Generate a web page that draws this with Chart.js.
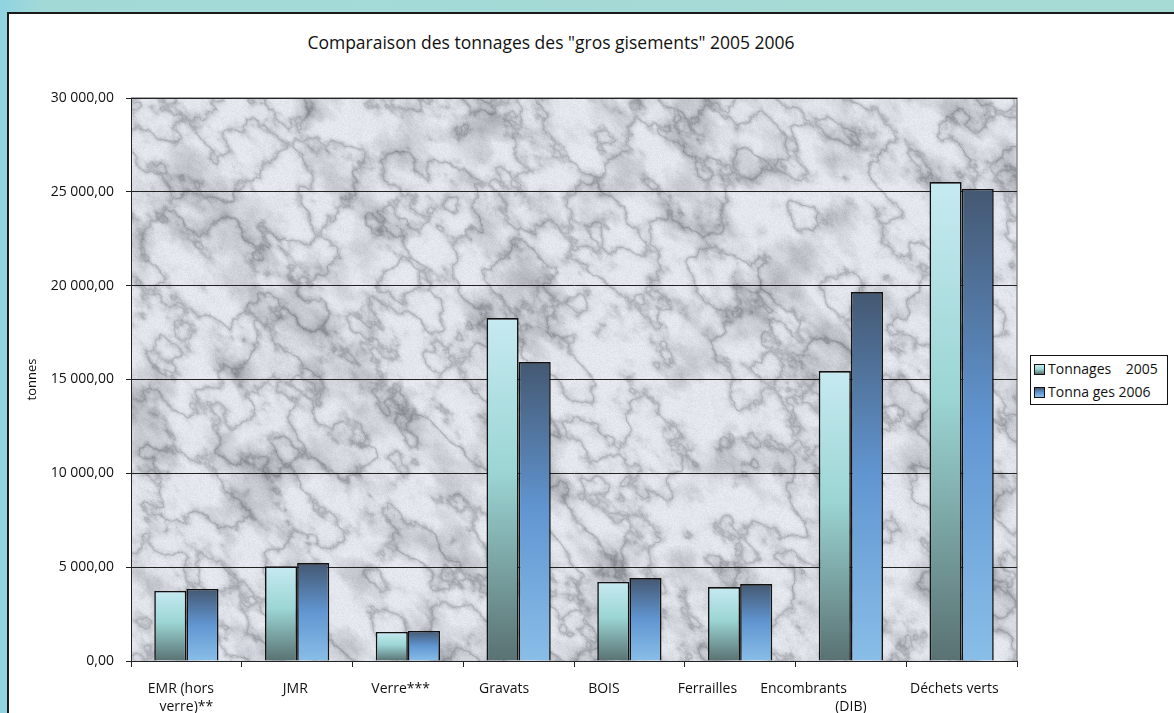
<!DOCTYPE html>
<html>
<head>
<meta charset="utf-8">
<script src="https://cdn.jsdelivr.net/npm/chart.js@4.4.0/dist/chart.umd.min.js"></script>
<style>
  body { margin: 0; width: 1174px; height: 713px; overflow: hidden;
    background: linear-gradient(90deg, #8fd3e1 0, #a2d9d7 40px, #a6dad4 100%);
    font-family: "Open Sans", sans-serif; }
  #box { position: absolute; left: 7px; top: 12px; right: -5px; bottom: -5px; background: #fff;
    border-left: 2px solid #1a1a1a; border-top: 2px solid #1a1a1a; }
  #title { position: absolute; top: 30px; left: 0; width: 1102px; text-align: center; font-size: 17.5px; color: #111; }
  #chart { position: absolute; left: 0; top: 0; }
  #legend { position: absolute; left: 1030px; top: 355px; width: 138px; height: 50px; border: 1px solid #111;
    background: #fff; font-size: 14px; color: #111; padding-left: 3px; padding-top: 1px; box-sizing: border-box; }
  #legend div { height: 23px; line-height: 23px; white-space: pre; }
  #legend span { display: inline-block; width: 9px; height: 9px; border: 1px solid #111; margin-right: 3px; vertical-align: -1px; }
</style>
</head>
<body>
<div id="box"></div>
<div id="title">Comparaison des tonnages des "gros gisements" 2005 2006</div>
<canvas id="chart" width="1174" height="713"></canvas>
<div id="legend"></div>
<script>
const categories = [['EMR (hors', 'verre)**'], 'JMR', 'Verre***', 'Gravats', 'BOIS', 'Ferrailles',
  ['Encombrants', '(DIB)'], 'Déchets verts'];
const seriesNames = ['Tonnages    2005', 'Tonna ges 2006'];
const tonnages2005 = [3730, 5045, 1545, 18275, 4210, 3940, 15450, 25520];
const tonnages2006 = [3840, 5220, 1600, 15930, 4420, 4100, 19660, 25150];
const yMax = 30000;
const yStep = 5000;

// the source drew most category labels a bit left of centre; trailing spaces per first line
const labelPad = [3, 1, 4, 8, 14, 18, 26, 4];

const stops2005 = [[0, '#c6eaf1'], [0.45, '#9bd5d4'], [1, '#597172']];
const stops2006 = [[0, '#445872'], [0.5, '#6196d2'], [1, '#89bee8']];

function fmt(v) {
  const parts = v.toFixed(2).split('.');
  return parts[0].replace(/\B(?=(\d{3})+(?!\d))/g, ' ') + ',' + parts[1];
}

function barGradient(stops) {
  return ctx => {
    const chart = ctx.chart;
    if (!chart.chartArea || ctx.raw == null) return stops[1][1];
    const y = chart.scales.y;
    const g = chart.ctx.createLinearGradient(0, y.getPixelForValue(ctx.raw), 0, y.getPixelForValue(0));
    stops.forEach(([o, c]) => g.addColorStop(o, c));
    return g;
  };
}

// marble-ish background for the plot area
function hash(x, y) { const s = Math.sin(x * 127.1 + y * 311.7) * 43758.5453; return s - Math.floor(s); }
function vnoise(x, y) {
  const xi = Math.floor(x), yi = Math.floor(y), xf = x - xi, yf = y - yi;
  const u = xf * xf * (3 - 2 * xf), v = yf * yf * (3 - 2 * yf);
  const a = hash(xi, yi), b = hash(xi + 1, yi), c = hash(xi, yi + 1), d = hash(xi + 1, yi + 1);
  return a + (b - a) * u + (c - a) * v + (a - b - c + d) * u * v;
}
function fbm(x, y, oct) {
  let s = 0, a = 0.5, f = 1;
  for (let i = 0; i < oct; i++) { s += a * vnoise(x * f, y * f); f *= 2; a *= 0.5; }
  return s;
}
let marble = null;
function makeMarble(w, h) {
  const c = document.createElement('canvas');
  c.width = w; c.height = h;
  const cx = c.getContext('2d');
  const img = cx.createImageData(w, h);
  for (let y = 0; y < h; y++) {
    for (let x = 0; x < w; x++) {
      const u = (x + y) * 0.707, v = (y - x) * 0.707;
      const cloud = fbm(u / 45, v / 30, 5);
      const r = 1 - Math.abs(2 * fbm(u / 40 + 10, v / 28 + 3, 5) - 1);
      const vein = Math.pow(r, 10);
      const val = 240 - vein * 55 - Math.max(0, cloud - 0.45) * 120 - hash(x, y) * 12;
      const i = (y * w + x) * 4;
      img.data[i] = val - 6; img.data[i + 1] = val - 3; img.data[i + 2] = val + 4; img.data[i + 3] = 255;
    }
  }
  cx.putImageData(img, 0, 0);
  return c;
}
const marblePlugin = {
  id: 'marble',
  beforeDraw(chart) {
    const a = chart.chartArea, ctx = chart.ctx;
    const w = Math.round(a.right - a.left), h = Math.round(a.bottom - a.top);
    if (!marble || marble.width !== w) marble = makeMarble(w, h);
    ctx.drawImage(marble, a.left, a.top);
    ctx.save();
    ctx.strokeStyle = '#8a8a8a';
    ctx.lineWidth = 1.5;
    ctx.beginPath();
    ctx.moveTo(a.left, a.top); ctx.lineTo(a.right, a.top); ctx.lineTo(a.right, a.bottom);
    ctx.stroke();
    ctx.restore();
  }
};

new Chart(document.getElementById('chart'), {
  type: 'bar',
  data: {
    labels: categories,
    datasets: [
      { label: seriesNames[0], data: tonnages2005, backgroundColor: barGradient(stops2005) },
      { label: seriesNames[1], data: tonnages2006, backgroundColor: barGradient(stops2006) }
    ]
  },
  options: {
    responsive: false,
    animation: false,
    layout: { padding: { left: 20, top: 98, right: 157, bottom: 0 } },
    datasets: {
      bar: { barPercentage: 1, categoryPercentage: 0.58, borderWidth: 1.6, borderColor: '#111' }
    },
    plugins: { legend: { display: false }, tooltip: { enabled: false } },
    scales: {
      x: {
        offset: true,
        grid: { display: true, drawOnChartArea: false, offset: true, tickLength: 6, color: '#222' },
        border: { color: '#222', width: 1 },
        ticks: {
          color: '#111', font: { family: 'Open Sans', size: 14, lineHeight: 1.3 }, padding: 13,
          maxRotation: 0, autoSkip: false,
          callback: function (val, i) {
            const lab = this.getLabelForValue(val);
            const pad = ' '.repeat(labelPad[i]);
            return Array.isArray(lab) ? [lab[0] + pad, ...lab.slice(1)] : lab + pad;
          }
        },
        afterFit: s => { s.height = 52; }
      },
      y: {
        min: 0, max: yMax,
        ticks: { stepSize: yStep, color: '#111', font: { family: 'Open Sans', size: 14 }, padding: 12, callback: v => fmt(v) },
        grid: { color: '#222', lineWidth: 1, tickLength: 5 },
        border: { color: '#222' },
        title: { display: true, text: 'tonnes', color: '#111', font: { family: 'Open Sans', size: 13 }, padding: { top: 4, bottom: 0 } },
        afterFit: s => { s.width = 111; }
      }
    }
  },
  plugins: [marblePlugin]
});

// legend built from series names
const legend = document.getElementById('legend');
[stops2005, stops2006].forEach((stops, i) => {
  const row = document.createElement('div');
  const sw = document.createElement('span');
  sw.style.background = 'linear-gradient(' + stops.map(s => s[1] + ' ' + s[0] * 100 + '%').join(',') + ')';
  row.appendChild(sw);
  row.appendChild(document.createTextNode(seriesNames[i]));
  legend.appendChild(row);
});
</script>
</body>
</html>
